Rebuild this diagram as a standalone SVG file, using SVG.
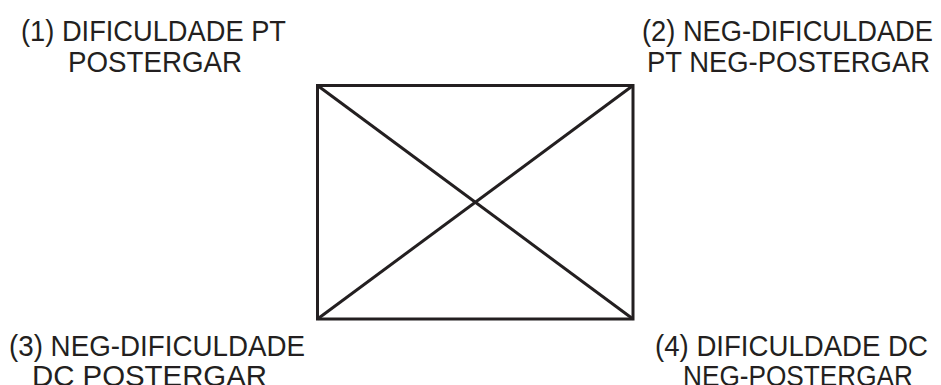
<svg xmlns="http://www.w3.org/2000/svg" width="941" height="385" viewBox="0 0 941 385">
<style>
.lbl{font-family:"Liberation Sans",Arial,sans-serif;font-size:30px;fill:#231f20;text-anchor:middle}
.ln{stroke:#231f20;stroke-width:3;fill:none}
</style>
<rect width="941" height="385" fill="#ffffff"/>
<g id="connectors">
<rect class="ln" x="317.5" y="85.5" width="315.5" height="233.5"/>
<line class="ln" x1="317.5" y1="85.5" x2="633" y2="319"/>
<line class="ln" x1="633" y1="85.5" x2="317.5" y2="319"/>
</g>
<g id="n1"><text class="lbl" x="153.5" y="41" textLength="265" lengthAdjust="spacingAndGlyphs">(1) DIFICULDADE PT</text><text class="lbl" x="155" y="72" textLength="174" lengthAdjust="spacingAndGlyphs">POSTERGAR</text></g>
<g id="n2"><text class="lbl" x="787.5" y="41" textLength="291" lengthAdjust="spacingAndGlyphs">(2) NEG-DIFICULDADE</text><text class="lbl" x="788.5" y="72" textLength="283" lengthAdjust="spacingAndGlyphs">PT NEG-POSTERGAR</text></g>
<g id="n3"><text class="lbl" x="157" y="356" textLength="296" lengthAdjust="spacingAndGlyphs">(3) NEG-DIFICULDADE</text><text class="lbl" x="149.5" y="386" textLength="235" lengthAdjust="spacingAndGlyphs">DC POSTERGAR</text></g>
<g id="n4"><text class="lbl" x="791.5" y="356" textLength="273" lengthAdjust="spacingAndGlyphs">(4) DIFICULDADE DC</text><text class="lbl" x="798" y="386" textLength="230" lengthAdjust="spacingAndGlyphs">NEG-POSTERGAR</text></g>
</svg>
